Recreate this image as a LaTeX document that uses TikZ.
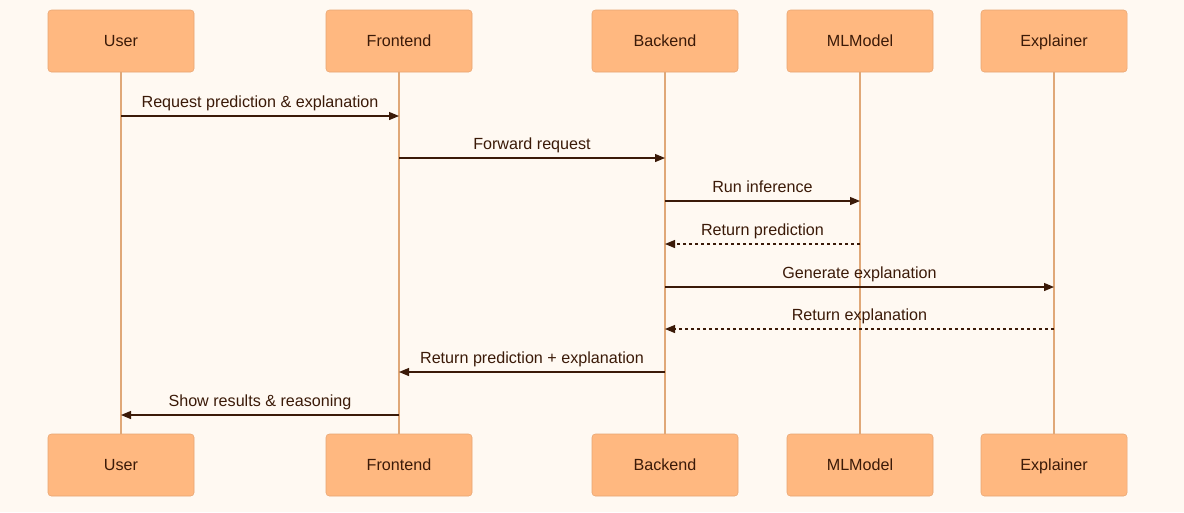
\documentclass[tikz,border=0pt]{standalone}
\usepackage{fontspec}
\setmainfont{Liberation Sans}
\usetikzlibrary{arrows.meta,calc}
\definecolor{bgc}{HTML}{FFF9F2}
\definecolor{boxfill}{HTML}{FFB880}
\definecolor{boxdraw}{HTML}{E8A672}
\definecolor{lifec}{HTML}{E0A878}
\definecolor{txt}{HTML}{3B1A08}
\begin{document}
\begin{tikzpicture}[x=0.75pt,y=-0.75pt,
  actor/.style={draw=boxdraw,fill=boxfill,rounded corners=2.5pt,minimum width=109.5pt,minimum height=46.5pt,inner sep=0pt},
  atext/.style={text=txt,font=\fontsize{12.1}{14}\selectfont,inner sep=0pt,anchor=base},
  life/.style={draw=lifec,line width=1.5pt},
  msg/.style={draw=txt,line width=0.9pt,-{Triangle[length=7.5pt,width=6pt]}},
  rep/.style={msg,dashed,dash pattern=on 2.5pt off 2pt},
  lbl/.style={text=txt,font=\fontsize{12.1}{14}\selectfont,inner sep=0pt,anchor=base}]
\fill[bgc] (0,0) rectangle (1184,512);
\useasboundingbox (0,0) rectangle (1184,512);
\foreach \n/\x/\t in {u/121/User,f/399/Frontend,b/665/Backend,m/860/MLModel,e/1054/Explainer}{
  \node[actor] (\n t) at (\x,41) {};
  \node[atext] (\n tt) at ($(\n t.center)+(0,5.5)$) {\t};
  \node[actor] (\n b) at (\x,465) {};
  \node[atext] (\n bt) at ($(\n b.center)+(0,5.5)$) {\t};
  \draw[life] (\n t.south) -- (\n b.north);
}
\foreach \s/\d/\y/\st/\t in {u/f/116/msg/{Request prediction \& explanation},
  f/b/158/msg/{Forward request},
  b/m/201/msg/{Run inference},
  m/b/244/rep/{Return prediction},
  b/e/287/msg/{Generate explanation},
  e/b/329/rep/{Return explanation},
  b/f/372/msg/{Return prediction + explanation},
  f/u/415/msg/{Show results \& reasoning}}{
  \coordinate (s\y) at (\s t.south |- 0,\y);
  \coordinate (d\y) at (\d t.south |- 0,\y);
  \draw[\st] (s\y) -- (d\y);
  \node[lbl] (l\y) at ($(s\y)!0.5!(d\y)+(0,-8.5)$) {\t};
}
\end{tikzpicture}
\end{document}
